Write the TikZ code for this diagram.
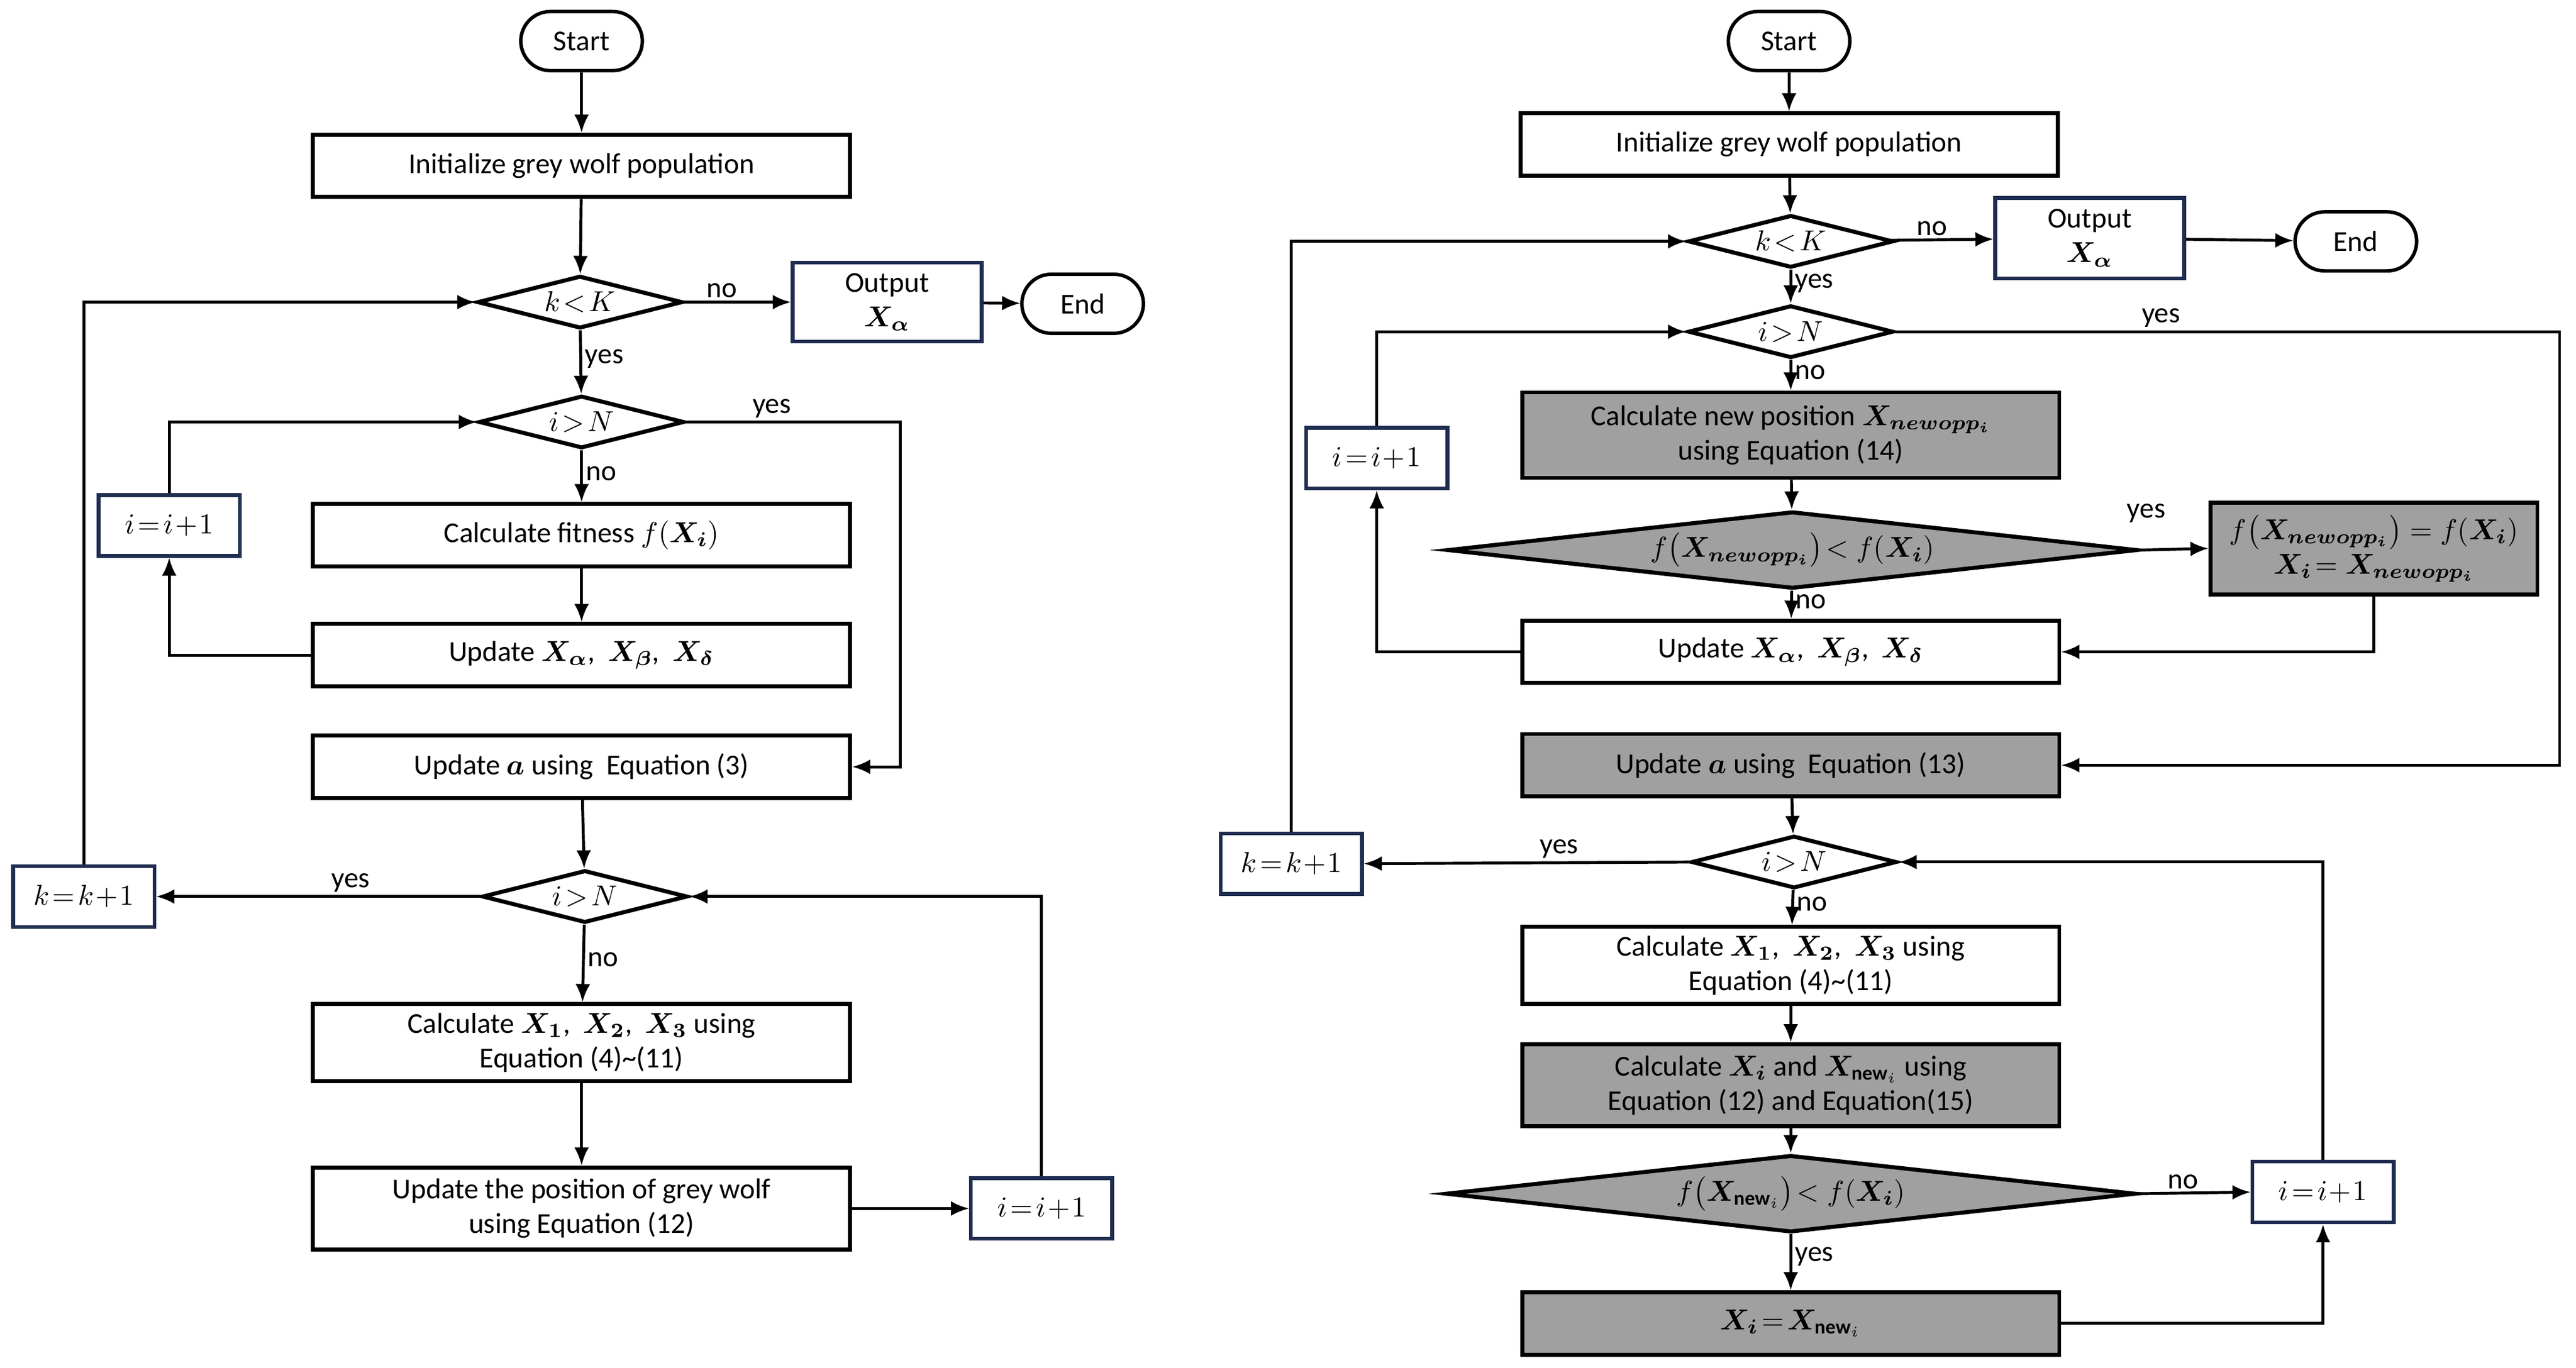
\documentclass[tikz,border=0pt]{standalone}
\usepackage{fontspec}
\setmainfont{Carlito}
\usepackage{amsmath}
\usepackage{bm}
\usetikzlibrary{shapes.geometric, arrows.meta, positioning}
\definecolor{navy}{RGB}{31, 45, 80}
\definecolor{shade}{RGB}{160, 160, 160}
\tikzstyle{proc} = [rectangle, draw=black, line width=1.4pt, fill=white, minimum width=6.54cm, minimum height=0.76cm, align=center, inner sep=1pt]
\tikzstyle{gproc} = [proc, fill=shade]
\tikzstyle{counter} = [rectangle, draw=navy, line width=1.3pt, fill=white, minimum width=1.72cm, minimum height=0.74cm, align=center, inner sep=1pt]
\tikzstyle{term} = [rectangle, rounded corners=0.36cm, draw=black, line width=1.2pt, minimum width=1.48cm, minimum height=0.72cm]
\tikzstyle{dec} = [diamond, draw=black, line width=1.4pt, fill=white, minimum width=2.5cm, minimum height=0.64cm, inner sep=0pt, aspect=4]
\tikzstyle{gdec} = [dec, fill=shade, minimum width=8.4cm, minimum height=0.94cm, aspect=9]
\tikzstyle{arrow} = [line width=1pt, -{Latex[length=2.2mm, width=1.8mm]}]
\tikzstyle{lbl} = [font=\fontsize{10}{12}\selectfont, inner sep=1pt]

\begin{document}
\begin{tikzpicture}[x=0.02cm, y=-0.02cm, font=\fontsize{10}{12}\selectfont]
    \useasboundingbox (0,0) rectangle (1568,833);

    % Left flowchart
    \node[term] (lstart) at (354,25) {Start};
    \node[proc] (linit) at (354,101) {Initialize grey wolf population};
    \node[dec] (lkK) at (353,184) {$k\!<\!K$};
    \node[counter, minimum width=2.3cm, minimum height=0.96cm] (lout) at (540,184) {Output\\$\bm{X_\alpha}$};
    \node[term] (lend) at (659,185) {End};
    \node[dec] (liN) at (354,257) {$i\!>\!N$};
    \node[counter] (linc) at (103,320) {$i\!=\!i\!+\!1$};
    \node[proc] (lfit) at (354,326) {Calculate fitness $f(\bm{X_i})$};
    \node[proc] (lupd) at (354,399) {Update $\bm{X_\alpha}$,~~$\bm{X_\beta}$,~~$\bm{X_\delta}$};
    \node[proc] (la) at (354,467) {Update $\bm{a}$ using~ Equation (3)};
    \node[dec] (liN2) at (356,546) {$i\!>\!N$};
    \node[counter] (lkinc) at (51,546) {$k\!=\!k\!+\!1$};
    \node[proc, minimum height=0.94cm] (lcalc) at (354,635) {Calculate $\bm{X_1}$,~~$\bm{X_2}$,~~$\bm{X_3}$ using\\Equation (4)\textasciitilde(11)};
    \node[proc, minimum height=1cm] (lpos) at (354,736) {Update the position of grey wolf\\using Equation (12)};
    \node[counter] (linc2) at (634,736) {$i\!=\!i\!+\!1$};

    \draw[arrow] (lstart) -- (linit);
    \draw[arrow] (linit) -- (lkK);
    \draw[arrow] (lkK) -- node[lbl, above, pos=0.35] {no} (lout);
    \draw[arrow] (lout) -- (lend);
    \draw[arrow] (lkK) -- node[lbl, right, pos=0.45] {yes} (liN);
    \draw[arrow] (liN) -- node[lbl, right, pos=0.45] {no} (lfit);
    \draw[arrow] (lfit) -- (lupd);
    \draw[arrow] (lupd.west) -| (linc.south);
    \draw[arrow] (linc.north) |- (liN.west);
    \draw[arrow] (liN.east) -- node[lbl, above, pos=0.4] {yes} (548,257) |- (la.east);
    \draw[arrow] (la) -- (liN2);
    \draw[arrow] (liN2.west) -- node[lbl, above, pos=0.4] {yes} (lkinc.east);
    \draw[arrow] (lkinc.north) |- (lkK.west);
    \draw[arrow] (liN2) -- node[lbl, right, pos=0.45] {no} (lcalc);
    \draw[arrow] (lcalc) -- (lpos);
    \draw[arrow] (lpos) -- (linc2);
    \draw[arrow] (linc2.north) |- (liN2.east);

    % Right flowchart
    \node[term] (rstart) at (1089,25) {Start};
    \node[proc] (rinit) at (1089,88) {Initialize grey wolf population};
    \node[dec] (rkK) at (1090,147) {$k\!<\!K$};
    \node[counter, minimum width=2.3cm, minimum height=0.98cm] (rout) at (1272,145) {Output\\$\bm{X_\alpha}$};
    \node[term] (rend) at (1434,147) {End};
    \node[dec] (riN) at (1090,202) {$i\!>\!N$};
    \node[gproc, minimum height=1.04cm] (rnew) at (1090,265) {Calculate new position $\bm{X_{newopp_i}}$\\using Equation (14)};
    \node[counter] (rinc) at (838,279) {$i\!=\!i\!+\!1$};
    \node[gdec] (ropp) at (1091,335) {$f\big(\bm{X_{newopp_i}}\big)\!<f(\bm{X_i})$};
    \node[gproc, minimum width=3.98cm, minimum height=1.12cm] (rset) at (1445,334) {$f\big(\bm{X_{newopp_i}}\big)=f(\bm{X_i})$\\$\bm{X_i}\!=\bm{X_{newopp_i}}$};
    \node[proc] (rupd) at (1090,397) {Update $\bm{X_\alpha}$,~~$\bm{X_\beta}$,~~$\bm{X_\delta}$};
    \node[gproc] (ra) at (1090,466) {Update $\bm{a}$ using~ Equation (13)};
    \node[dec] (riN2) at (1092,525) {$i\!>\!N$};
    \node[counter] (rkinc) at (786,526) {$k\!=\!k\!+\!1$};
    \node[proc, minimum height=0.94cm] (rcalc) at (1090,588) {Calculate $\bm{X_1}$,~~$\bm{X_2}$,~~$\bm{X_3}$ using\\Equation (4)\textasciitilde(11)};
    \node[gproc, minimum height=1cm] (rxi) at (1090,661) {Calculate $\bm{X_i}$ and $\bm{X}_{\mathbf{new}_i}$ using\\Equation (12) and Equation(15)};
    \node[gdec, minimum width=8.4cm] (rnw) at (1090,727) {$f\big(\bm{X}_{\mathbf{new}_i}\big)\!<f(\bm{X_i})$};
    \node[counter] (rinc2) at (1414,726) {$i\!=\!i\!+\!1$};
    \node[gproc] (rrep) at (1090,806) {$\bm{X_i}\!=\!\bm{X}_{\mathbf{new}_i}$};

    \draw[arrow] (rstart) -- (rinit);
    \draw[arrow] (rinit) -- (rkK);
    \draw[arrow] (rkK) -- node[lbl, above, pos=0.4] {no} (rout);
    \draw[arrow] (rout) -- (rend);
    \draw[arrow] (rkK) -- node[lbl, right, pos=0.4] {yes} (riN);
    \draw[arrow] (rkinc.north) |- (rkK.west);
    \draw[arrow] (riN.east) -- node[lbl, above, pos=0.4] {yes} (1558,202) |- (ra.east);
    \draw[arrow] (riN) -- node[lbl, right, pos=0.4] {no} (rnew);
    \draw[arrow] (rinc.north) |- (riN.west);
    \draw[arrow] (rupd.west) -| (rinc.south);
    \draw[arrow] (rnew) -- (ropp);
    \draw[arrow] (ropp.east) -- node[lbl, above=8pt, pos=0.1] {yes} (rset.west);
    \draw[arrow] (rset.south) |- (rupd.east);
    \draw[arrow] (ropp) -- node[lbl, right, pos=0.4] {no} (rupd);
    \draw[arrow] (ra) -- (riN2);
    \draw[arrow] (riN2.west) -- node[lbl, above, pos=0.4] {yes} (rkinc.east);
    \draw[arrow] (riN2) -- node[lbl, right, pos=0.4] {no} (rcalc);
    \draw[arrow] (rcalc) -- (rxi);
    \draw[arrow] (rxi) -- (rnw);
    \draw[arrow] (rnw.east) -- node[lbl, above, pos=0.4] {no} (rinc2.west);
    \draw[arrow] (rnw) -- node[lbl, right, pos=0.4] {yes} (rrep);
    \draw[arrow] (rrep.east) -| (rinc2.south);
    \draw[arrow] (rinc2.north) |- (riN2.east);
\end{tikzpicture}
\end{document}
